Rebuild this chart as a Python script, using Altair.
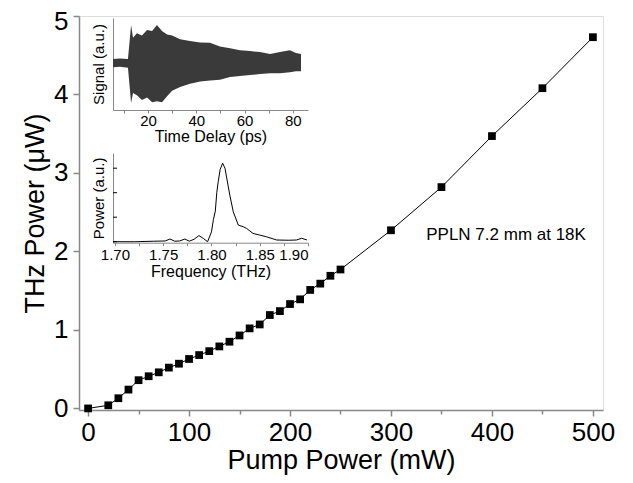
import altair as alt
import pandas as pd

# ---- main data: THz power vs pump power ----
pump_mw = [0, 20, 30, 40, 50, 60, 70, 80, 90, 100, 110, 120, 130, 140, 150, 160,
           170, 180, 190, 200, 210, 220, 230, 240, 250, 300, 350, 400, 450, 500]
thz_uw = [0.0, 0.04, 0.13, 0.24, 0.36, 0.41, 0.46, 0.52, 0.57, 0.63, 0.68, 0.73,
          0.79, 0.85, 0.93, 1.02, 1.07, 1.19, 1.24, 1.33, 1.39, 1.51, 1.59, 1.69,
          1.77, 2.27, 2.82, 3.47, 4.08, 4.73]

# ---- inset 1: time-domain signal envelope ----
delay_ps = [5.5, 8.4, 11.7, 13.0, 13.8, 15.4, 17.5, 19.6, 21.7, 23.7, 25.8, 27.9,
            30.0, 33.3, 37.4, 41.6, 45.7, 49.8, 54.0, 58.1, 62.3, 66.4, 70.6,
            74.7, 78.8, 81.3, 83.4]
sig_upper = [0.09, 0.10, 0.09, 0.83, 0.55, 0.65, 0.60, 0.72, 0.70, 0.83, 0.70,
             0.62, 0.60, 0.52, 0.48, 0.45, 0.44, 0.36, 0.32, 0.28, 0.26, 0.24,
             0.20, 0.24, 0.28, 0.22, 0.20]
sig_lower = [-0.09, -0.08, -0.10, -0.87, -0.65, -0.70, -0.80, -0.75, -0.85, -0.83,
             -0.85, -0.72, -0.60, -0.52, -0.45, -0.40, -0.38, -0.36, -0.30, -0.28,
             -0.26, -0.24, -0.22, -0.22, -0.20, -0.18, -0.18]

# ---- inset 2: spectrum ----
freq_thz = [1.698, 1.72, 1.74, 1.752, 1.757, 1.762, 1.767, 1.7725, 1.777, 1.782,
            1.787, 1.792, 1.796, 1.800, 1.802, 1.804, 1.8055, 1.807, 1.809,
            1.8116, 1.814, 1.8158, 1.819, 1.8226, 1.8278, 1.833, 1.8365, 1.843,
            1.850, 1.857, 1.8676, 1.88, 1.888, 1.8935, 1.899]
spec_power = [0.0, 0.0, 0.02, 0.03, 0.11, 0.02, 0.03, 0.11, 0.02, 0.10, 0.25,
              0.12, 0.0, 0.4, 0.9, 1.25, 2.0, 2.45, 2.95, 3.2, 3.0, 2.6, 1.9,
              1.22, 0.68, 0.61, 0.54, 0.34, 0.27, 0.20, 0.07, 0.06, 0.07, 0.14,
              0.07]
spec_ticks = [0, 1, 2, 3]

FONT = "Liberation Sans"

# ---------------- main panel ----------------
main_df = pd.DataFrame({"pump": pump_mw, "thz": thz_uw})
xs = alt.Scale(domain=[-9, 510], nice=False, zero=False)
ys = alt.Scale(domain=[-0.02, 5], nice=False, zero=False)

x_axis = alt.Axis(
    orient="bottom",
    values=list(range(0, 501, 50)),
    format="d",
    labelExpr="datum.value % 100 === 0 ? datum.label : ''",
    tickSize={"condition": {"test": "datum.value % 100 === 0", "value": 6}, "value": 4},
    labelFontSize=26, titleFontSize=27, labelPadding=3, titlePadding=2,
    titleFontWeight="normal",
    domainWidth=1.5, tickWidth=1.5, grid=False,
)
y_axis = alt.Axis(
    orient="left",
    values=[i * 0.5 for i in range(11)],
    format=".0f",
    labelExpr="datum.value % 1 === 0 ? datum.label : ''",
    labelOffset={"condition": {"test": "datum.value === 5", "value": 5}, "value": 0},
    tickSize={"condition": {"test": "datum.value % 1 === 0", "value": 6}, "value": 4},
    labelFontSize=26, titleFontSize=27, labelPadding=5, titlePadding=4,
    titleFontWeight="normal",
    domainWidth=1.5, tickWidth=1.5, grid=False,
)

base = alt.Chart(main_df).encode(
    x=alt.X("pump:Q", scale=xs, axis=x_axis, title="Pump Power (mW)"),
    y=alt.Y("thz:Q", scale=ys, axis=y_axis, title="THz Power (μW)"),
)
line = base.mark_line(color="black", strokeWidth=1)
pts = base.mark_point(shape="square", filled=True, size=60, color="black", opacity=1)

ann_df = pd.DataFrame({"x": [414], "y": [2.21], "t": ["PPLN 7.2 mm at 18K"]})
ann = alt.Chart(ann_df).mark_text(
    font=FONT, fontSize=17, color="black", align="center", baseline="middle"
).encode(
    x=alt.X("x:Q", scale=xs),
    y=alt.Y("y:Q", scale=ys),
    text="t:N",
)
main = alt.layer(line, pts, ann)

# ---------------- inset 1 ----------------
sig_df = pd.DataFrame({"t": delay_ps, "hi": sig_upper, "lo": sig_lower})
inset1 = alt.Chart(sig_df).mark_area(color="#3a3a3a", opacity=1).encode(
    x=alt.X(
        "t:Q",
        scale=alt.Scale(domain=[5.5, 86.3], range=[34, 229], nice=False, zero=False),
        axis=alt.Axis(
            orient="bottom", offset=-300, values=list(range(10, 81, 10)),
            labelExpr="datum.value % 20 === 0 ? datum.label : ''",
            tickSize=3, labelPadding=0, labelFontSize=15, titleFontSize=16,
            titlePadding=0, titleFontWeight="normal",
            grid=False, domainWidth=1, tickWidth=1,
        ),
        title="Time Delay (ps)",
    ),
    y=alt.Y(
        "hi:Q",
        scale=alt.Scale(domain=[-1.02, 0.98], range=[94, 2], nice=False, zero=False),
        axis=alt.Axis(
            orient="left", offset=-34, ticks=False, labels=False, grid=False,
            titleFontSize=15, titlePadding=7, titleFontWeight="normal", domainWidth=1,
        ),
        title="Signal (a.u.)",
    ),
    y2="lo:Q",
)

# ---------------- inset 2 ----------------
spec_df = pd.DataFrame({"f": freq_thz, "p": spec_power})
fx = alt.Scale(domain=[1.698, 1.90], range=[34, 229], nice=False, zero=False)
fy = alt.Scale(domain=[-0.04, 3.62], range=[226.7, 137], nice=False, zero=False)
spec_line = alt.Chart(spec_df).mark_line(color="black", strokeWidth=1).encode(
    x=alt.X(
        "f:Q", scale=fx,
        axis=alt.Axis(
            orient="bottom", offset=-167.3,
            values=[1.70, 1.725, 1.75, 1.775, 1.80, 1.825, 1.85, 1.875, 1.90],
            format=".2f",
            labelExpr="round(datum.value * 1000) % 50 === 0 ? datum.label : ''",
            tickSize=3, labelPadding=2, labelFontSize=15, titleFontSize=16,
            titlePadding=1, titleFontWeight="normal",
            grid=False, domainWidth=1, tickWidth=1,
        ),
        title="Frequency (THz)",
    ),
    y=alt.Y(
        "p:Q", scale=fy,
        axis=alt.Axis(
            orient="left", offset=-34, ticks=False, labels=False, grid=False,
            titleFontSize=15, titlePadding=7, titleFontWeight="normal", domainWidth=1,
        ),
        title="Power (a.u.)",
    ),
)
tick_df = pd.DataFrame({"v": spec_ticks, "f0": [1.698] * 4, "f1": [1.7022] * 4})
spec_ticks_layer = alt.Chart(tick_df).mark_rule(color="black", strokeWidth=1).encode(
    x=alt.X("f0:Q", scale=fx),
    x2="f1:Q",
    y=alt.Y("v:Q", scale=fy),
)
inset2 = alt.layer(spec_line, spec_ticks_layer)

chart = alt.layer(main, inset1, inset2).resolve_scale(
    x="independent", y="independent"
).properties(
    width=524, height=394,
    autosize=alt.AutoSizeParams(type="none"),
    padding={"left": 71, "top": 8, "right": 22, "bottom": 65},
).configure_view(stroke=None).configure_axis(
    labelFont=FONT, titleFont=FONT, titleFontWeight="normal",
    labelColor="black", titleColor="black", domainColor="black", tickColor="black",
).configure(background="white")

chart.save("out.html", embed_options={"renderer": "svg", "actions": False})
